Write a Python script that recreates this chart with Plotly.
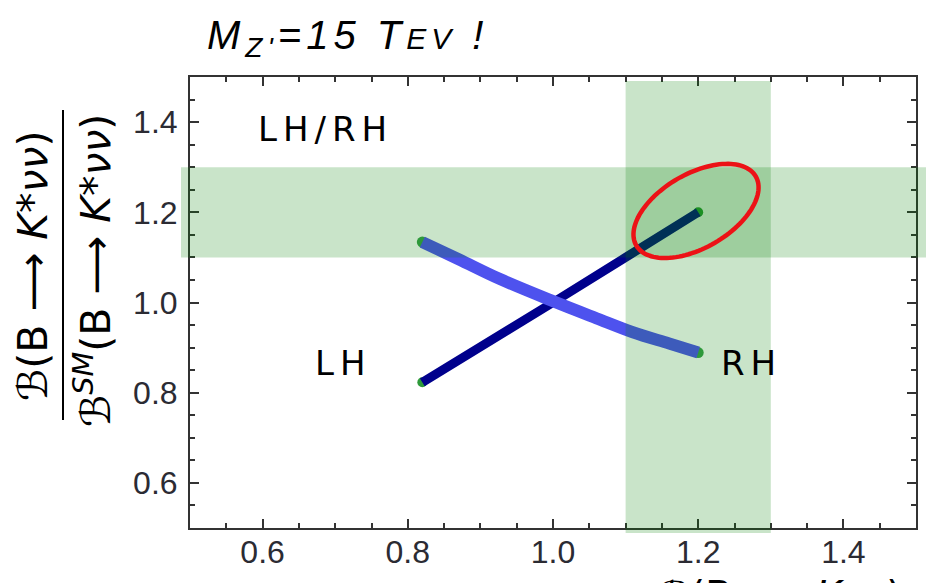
import numpy as np
import plotly.graph_objects as go

# ---------------- data ----------------
lh_x = [0.82, 0.90, 1.00, 1.10, 1.20]
lh_y = [0.823, 0.90, 1.00, 1.10, 1.20]

rh_x = [0.82, 0.87, 0.927, 1.00, 1.06, 1.11, 1.16, 1.20]
rh_y = [1.134, 1.096, 1.052, 1.003, 0.965, 0.934, 0.909, 0.889]

band_lo, band_hi = 1.1, 1.3          # bands on both ratios

x_tickvals = [0.6, 0.8, 1.0, 1.2, 1.4]
x_ticktext = ["0.6", "0.8", "1.0", "1.2", "1.4"]
y_tickvals = [0.6, 0.8, 1.0, 1.2, 1.4]
y_ticktext = ["0.6", "0.8", "1.0", "1.2", "1.4"]

labels = ["LH/RH", "LH", "RH"]
label_x = [0.686, 0.712, 1.274]
label_y = [1.384, 0.866, 0.866]

ellipse_center = (1.197, 1.203)

# ---------------- layout geometry ----------------
W, H = 941, 583
ML, MR, MT, MB = 190, 25, 77, 55
XR = [0.5, 1.5]
YR = [0.5, 1.5]
PW = W - ML - MR
PH = H - MT - MB

def xp(v):  # data x -> paper
    return (v - XR[0]) / (XR[1] - XR[0])

def yp(v):  # data y -> paper
    return (v - YR[0]) / (YR[1] - YR[0])

def px_x(p):  # pixel x -> paper
    return (p - ML) / PW

def px_y(p):  # pixel y (from top) -> paper
    return (H - MB - p) / PH

fig = go.Figure()

# LH curve (dark navy) with green end dots
fig.add_trace(go.Scatter(x=[lh_x[0], lh_x[-1]], y=[lh_y[0], lh_y[-1]], mode="markers",
                         marker=dict(color="#2e9a3a", size=10), hoverinfo="skip"))
fig.add_trace(go.Scatter(x=lh_x, y=lh_y, mode="lines",
                         line=dict(color="rgb(0,0,140)", width=9), hoverinfo="skip"))
# RH curve (lighter blue)
fig.add_trace(go.Scatter(x=[rh_x[0], rh_x[-1]], y=[rh_y[0], rh_y[-1]], mode="markers",
                         marker=dict(color="#3aa04a", size=11), hoverinfo="skip"))
fig.add_trace(go.Scatter(x=rh_x, y=rh_y, mode="lines", line_shape="spline",
                         line=dict(color="rgb(78,82,238)", width=12), hoverinfo="skip"))

shapes = []
green = "rgba(0,128,0,0.21)"
# horizontal band (extends slightly beyond the frame)
shapes.append(dict(type="rect", xref="paper", yref="paper",
                   x0=-9 / PW, x1=1 + 10 / PW, y0=yp(band_lo), y1=yp(band_hi),
                   fillcolor=green, line=dict(width=0), layer="above"))
# vertical band
shapes.append(dict(type="rect", xref="paper", yref="paper",
                   x0=xp(band_lo), x1=xp(band_hi), y0=-5 / PH, y1=1 - 4 / PH,
                   fillcolor=green, line=dict(width=0), layer="above"))

# red ellipse (drawn in pixel-space proportions)
a_px, b_px, th = 69, 37, np.deg2rad(30)
t = np.linspace(0, 2 * np.pi, 121)
ex = ellipse_center[0] + (a_px * np.cos(t) * np.cos(th) - b_px * np.sin(t) * np.sin(th)) / PW * (XR[1] - XR[0])
ey = ellipse_center[1] + (a_px * np.cos(t) * np.sin(th) + b_px * np.sin(t) * np.cos(th)) / PH * (YR[1] - YR[0])
path = "M " + " L ".join(f"{a:.5f},{b:.5f}" for a, b in zip(ex, ey)) + " Z"
shapes.append(dict(type="path", xref="x", yref="y", path=path,
                   line=dict(color="rgb(236,18,22)", width=4.5), layer="above"))

# fraction bar of the y title
shapes.append(dict(type="line", xref="paper", yref="paper",
                   x0=px_x(63), x1=px_x(63), y0=px_y(420), y1=px_y(110),
                   line=dict(color="black", width=2)))

annotations = []
for txt, lx, ly in zip(labels, label_x, label_y):
    annotations.append(dict(x=lx, y=ly, xref="x", yref="y", showarrow=False,
                            xanchor="center", yanchor="middle",
                            text=f"<span style='letter-spacing:6px'>{txt}</span>",
                            font=dict(family="DejaVu Sans", size=34, color="black")))

num = "ℬ(B ⟶ <i>K</i>*<i>νν</i>)"
den = "ℬ<sup><i>SM</i></sup>(B ⟶ <i>K</i>*<i>νν</i>)"
annotations.append(dict(x=px_x(33), y=px_y(266), xref="paper", yref="paper",
                        xanchor="center", yanchor="middle",
                        text=num, textangle=-90, showarrow=False,
                        font=dict(family="DejaVu Sans", size=41, color="black")))
annotations.append(dict(x=px_x(93), y=px_y(271), xref="paper", yref="paper",
                        xanchor="center", yanchor="middle",
                        text=den, textangle=-90, showarrow=False,
                        font=dict(family="DejaVu Sans", size=41, color="black")))
# x title, mostly cut off at the bottom of the picture
annotations.append(dict(x=px_x(780), y=px_y(571), xref="paper", yref="paper",
                        xanchor="center", yanchor="top",
                        text="ℬ(B ⟶ <i>K</i><i>νν</i>)", showarrow=False,
                        font=dict(family="DejaVu Sans", size=40, color="black")))
# header
annotations.append(dict(x=px_x(205), y=px_y(38), xref="paper", yref="paper",
                        xanchor="left", yanchor="middle", showarrow=False,
                        text="<span style='letter-spacing:5px'><i>M<sub>Z'</sub>=15 T<span style='font-size:30px'>EV</span> !</i></span>",
                        font=dict(family="Liberation Sans", size=40, color="black")))

axis_common = dict(ticks="inside", ticklen=9, tickwidth=1.5, tickcolor="#333",
                   showline=True, linecolor="#333", linewidth=2, mirror="ticks",
                   showgrid=False, zeroline=False, automargin=False,
                   tickfont=dict(family="Liberation Sans", size=32, color="#2b2b33"))

fig.update_layout(
    width=W, height=H, margin=dict(l=ML, r=MR, t=MT, b=MB, autoexpand=False),
    paper_bgcolor="white", plot_bgcolor="white", showlegend=False,
    shapes=shapes, annotations=annotations,
    xaxis=dict(range=XR, tickmode="array", tickvals=x_tickvals, ticktext=x_ticktext,
               ticklabelstandoff=-5,
               minor=dict(tickvals=list(np.round(np.arange(0.5, 1.5001, 0.05), 2)),
                          ticks="inside", ticklen=5, tickwidth=1.5, tickcolor="#333"),
               **axis_common),
    yaxis=dict(range=YR, tickmode="array", tickvals=y_tickvals, ticktext=y_ticktext,
               ticklabelstandoff=4,
               minor=dict(tickvals=list(np.round(np.arange(0.5, 1.5001, 0.05), 2)),
                          ticks="inside", ticklen=5, tickwidth=1.5, tickcolor="#333"),
               **axis_common),
)

fig.write_html("out.html")
